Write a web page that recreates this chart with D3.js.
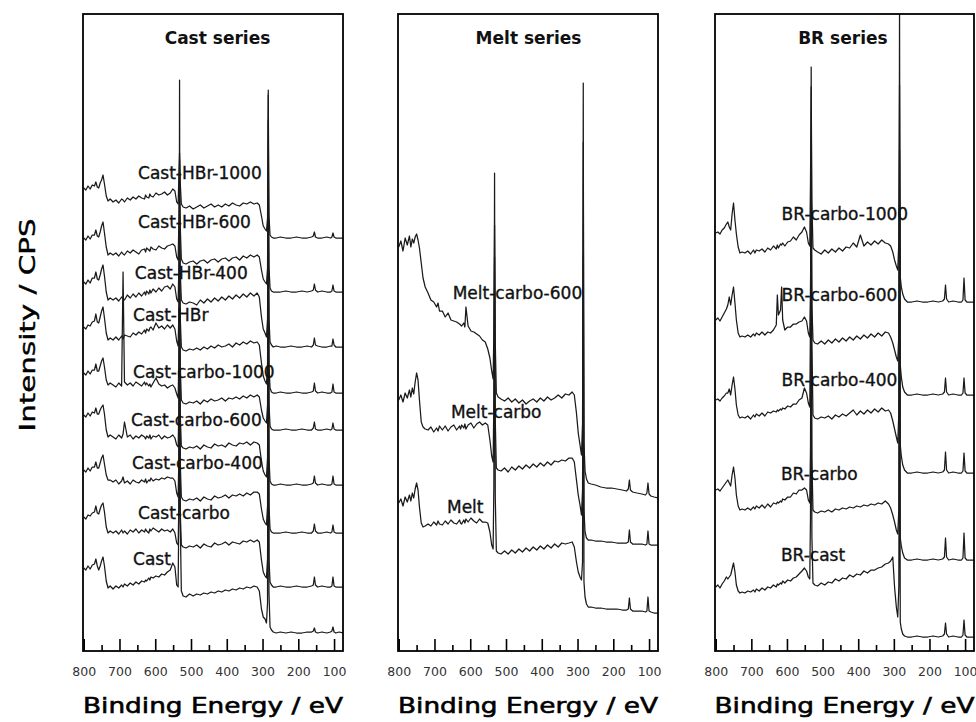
<!DOCTYPE html>
<html>
<head>
<meta charset="utf-8">
<script src="https://cdn.jsdelivr.net/npm/d3@7"></script>
<style>
  body { margin: 0; background: #fff; }
  svg { display: block; }
</style>
</head>
<body>
<svg id="chart" width="976" height="722"></svg>
<script>
// Binding-energy grid (eV) shared by every survey spectrum
const bindingEnergy = [
  800, 794, 788, 782, 776, 770, 766, 762, 758, 754, 750, 746, 742, 737, 732, 726,
  718, 710, 702, 694, 690, 686, 678, 670, 662, 654, 646, 638, 630, 627, 624, 618, 615, 612, 606, 598, 590, 582, 574, 566, 558,
  551, 545, 540, 536, 534, 532, 530, 527, 522,
  514, 504, 494, 484, 474, 464, 454, 444, 434, 424, 414, 404, 394, 384, 374, 364, 354, 344, 334, 324, 315,
  309, 303, 298, 293, 289, 286, 284, 282, 279, 275, 270,
  262, 250, 235, 220, 205, 190, 175, 163, 158, 155, 152, 146, 134, 120, 110, 106, 103, 100, 95, 86, 75
];

// Axis ticks (eV)
const majorTicks = [800, 700, 600, 500, 400, 300, 200, 100];
const minorTicks = [750, 650, 550, 450, 350, 250, 150];

// ---- Cast series: counts above each trace's own background ----
const castNames = ["Cast-HBr-1000", "Cast-HBr-600", "Cast-HBr-400", "Cast-HBr",
  "Cast-carbo-1000", "Cast-carbo-600", "Cast-carbo-400", "Cast-carbo", "Cast"];
const castOffsets = [413, 359, 304, 258, 221, 166, 118, 64, 18];
const castLabelAt = [[648, 478], [648, 429], [657, 378], [662, 336], [662, 279], [668, 231], [665, 188], [648, 138], [662, 92]];

const castHBr1000 = [
  50, 48, 52, 49, 53, 52, 56, 51, 50, 55, 58, 63, 54, 42, 37, 39,
  36, 38, 35, 39, 38, 36, 40, 38, 41, 39, 42, 40, 39, 43, 41, 40, 44, 42, 41, 45, 43, 44, 46, 43, 45,
  49, 47, 36, 34, 60, 85, 55, 34, 31,
  30, 32, 29, 31, 33, 30, 32, 34, 31, 33, 31, 34, 32, 35, 33, 32, 35, 34, 36, 34, 35,
  33, 22, 12, 9, 7, 20, 143, 22, 3, 1, 0,
  0, 1, 0, 0, 1, 0, 0, 1, 2, 6, 1, 0, 0, 1, 0, 1, 5, 1, 0, 0, 0
];
const castHBr600 = [
  54, 52, 56, 53, 57, 57, 62, 56, 55, 60, 66, 70, 59, 45, 37, 39,
  37, 39, 36, 40, 38, 37, 41, 39, 42, 40, 38, 42, 43, 40, 44, 42, 41, 45, 43, 42, 46, 44, 43, 46, 47,
  48, 46, 35, 32, 70, 132, 65, 33, 29,
  28, 30, 31, 28, 31, 32, 29, 32, 33, 30, 33, 34, 31, 34, 35, 32, 36, 34, 37, 35, 37,
  35, 22, 13, 10, 8, 24, 172, 25, 4, 1, 0,
  0, 0, 1, 0, 0, 1, 0, 1, 2, 8, 2, 0, 1, 0, 0, 1, 7, 1, 0, 0, 0
];
const castHBr400 = [
  65, 63, 67, 64, 69, 69, 75, 68, 67, 72, 78, 82, 71, 55, 47, 49,
  47, 49, 46, 50, 48, 47, 52, 49, 53, 50, 54, 51, 55, 52, 56, 53, 57, 54, 58, 55, 59, 56, 60, 61, 58,
  63, 60, 48, 45, 80, 137, 75, 47, 44,
  43, 45, 44, 42, 47, 44, 48, 45, 49, 46, 50, 47, 51, 48, 52, 49, 53, 50, 54, 51, 54,
  50, 30, 18, 14, 10, 28, 167, 28, 5, 2, 0,
  1, 0, 0, 1, 0, 0, 1, 0, 2, 9, 2, 1, 0, 0, 1, 1, 8, 2, 0, 0, 0
];
const castHBr = [
  66, 64, 68, 67, 71, 72, 79, 71, 70, 76, 82, 86, 75, 60, 53, 55,
  53, 56, 53, 57, 54, 58, 57, 56, 60, 58, 61, 59, 63, 60, 64, 62, 65, 66, 63, 70, 65, 67, 64, 68, 65,
  68, 64, 52, 47, 80, 143, 75, 46, 43,
  42, 44, 43, 45, 43, 46, 44, 47, 45, 48, 46, 47, 49, 46, 50, 48, 51, 49, 52, 50, 51,
  48, 30, 17, 12, 9, 27, 173, 28, 5, 1, 0,
  0, 1, 0, 0, 1, 0, 0, 1, 2, 10, 2, 0, 1, 0, 0, 1, 9, 1, 0, 0, 0
];
const castCarbo1000 = [
  57, 55, 59, 56, 60, 60, 66, 59, 59, 64, 69, 72, 63, 50, 45, 47,
  45, 43, 47, 44, 158, 48, 45, 47, 44, 48, 46, 44, 48, 45, 47, 44, 46, 43, 47, 52, 46, 44, 45, 42, 44,
  45, 42, 36, 32, 70, 130, 65, 30, 27,
  26, 28, 27, 29, 26, 30, 28, 31, 29, 30, 32, 29, 32, 31, 33, 31, 34, 32, 35, 33, 35,
  33, 20, 12, 9, 7, 25, 170, 26, 4, 1, 0,
  0, 0, 1, 0, 0, 1, 0, 0, 2, 8, 1, 0, 0, 1, 0, 1, 7, 1, 0, 0, 0
];
const castCarbo600 = [
  70, 68, 72, 69, 73, 72, 77, 71, 71, 75, 78, 80, 71, 55, 48, 50,
  48, 46, 50, 47, 51, 63, 48, 50, 46, 49, 47, 50, 48, 46, 49, 47, 50, 46, 49, 48, 50, 46, 49, 47, 48,
  50, 47, 40, 38, 75, 155, 70, 39, 37,
  36, 38, 37, 39, 36, 40, 38, 37, 41, 39, 40, 38, 42, 40, 39, 42, 41, 43, 40, 43, 42,
  40, 24, 14, 10, 8, 27, 185, 27, 4, 1, 0,
  0, 1, 0, 0, 1, 0, 0, 1, 2, 9, 2, 0, 1, 0, 0, 1, 9, 1, 0, 0, 0
];
const castCarbo400 = [
  63, 61, 65, 62, 66, 66, 71, 65, 65, 70, 75, 78, 69, 58, 53, 53,
  51, 53, 49, 52, 56, 50, 52, 49, 53, 51, 50, 53, 51, 54, 50, 53, 52, 55, 52, 54, 53, 55, 54, 56, 55,
  55, 52, 40, 36, 75, 153, 70, 36, 33,
  32, 34, 33, 35, 32, 36, 34, 33, 37, 35, 36, 38, 35, 38, 37, 39, 37, 40, 38, 41, 41,
  39, 24, 14, 10, 8, 27, 193, 27, 4, 1, 0,
  0, 0, 1, 0, 0, 1, 0, 0, 2, 9, 2, 0, 0, 1, 0, 1, 8, 1, 0, 0, 0
];
const castCarbo = [
  70, 68, 72, 71, 74, 75, 81, 74, 73, 78, 82, 84, 75, 60, 54, 56,
  54, 56, 53, 57, 54, 56, 53, 57, 55, 58, 54, 57, 55, 58, 56, 54, 58, 56, 59, 57, 55, 58, 56, 57, 55,
  58, 54, 44, 42, 80, 167, 75, 42, 40,
  39, 41, 40, 42, 39, 43, 41, 40, 44, 42, 43, 45, 42, 45, 44, 43, 46, 45, 47, 45, 47,
  45, 27, 15, 11, 9, 28, 187, 28, 5, 2, 0,
  0, 1, 0, 0, 1, 0, 0, 1, 2, 10, 2, 0, 1, 0, 0, 1, 10, 1, 0, 0, 0
];
const castPlain = [
  65, 63, 67, 64, 68, 69, 74, 67, 63, 67, 72, 76, 67, 52, 45, 47,
  44, 47, 45, 48, 46, 49, 47, 50, 48, 51, 49, 52, 51, 53, 52, 55, 53, 56, 55, 57, 56, 59, 58, 61, 63,
  70, 66, 48, 46, 120, 553, 110, 42, 37,
  36, 39, 37, 39, 38, 40, 39, 41, 40, 42, 41, 43, 42, 44, 43, 45, 44, 46, 45, 47, 46,
  42, 24, 16, 14, 10, 30, 543, 40, 6, 3, 1,
  0, 1, 0, 1, 0, 0, 1, 1, 2, 5, 1, 0, 1, 0, 1, 2, 6, 1, 0, 1, 0
];

// ---- Melt series ----
const meltNames = ["Melt-carbo-600", "Melt-carbo", "Melt"];
const meltOffsets = [168, 111, 44];
const meltLabelAt = [[649, 358], [654, 239], [665, 144]];

const meltCarbo600 = [
  236, 242, 232, 245, 238, 247, 236, 244, 240, 246, 249, 243, 235, 220, 205, 196,
  190, 183, 181, 176, 180, 172, 172, 166, 170, 163, 162, 161, 159, 158, 157, 160, 156, 176, 157, 152, 151, 149, 147, 143, 141,
  134, 125, 112, 104, 150, 258, 140, 90, 86,
  84, 82, 85, 81, 84, 80, 83, 79, 82, 84, 81, 85, 82, 86, 83, 85, 88, 85, 89, 88, 91,
  88, 70, 50, 38, 28, 60, 341, 40, 12, 4, 0,
  -1, -2, -4, -5, -5, -6, -7, -8, -6, 3, -7, -9, -10, -11, -12, -10, 0, -11, -13, -14, -15
];
const meltCarbo = [
  140, 145, 138, 147, 142, 150, 143, 152, 146, 158, 167, 160, 140, 118, 113, 111,
  110, 113, 108, 112, 109, 114, 110, 114, 109, 113, 115, 110, 114, 111, 115, 112, 116, 111, 115, 117, 112, 116, 118, 115, 117,
  115, 100, 84, 78, 140, 283, 120, 72, 70,
  69, 72, 68, 73, 70, 74, 71, 75, 72, 76, 73, 77, 74, 78, 75, 79, 78, 80, 79, 82, 82,
  78, 60, 45, 35, 25, 50, 285, 30, 8, 2, 0,
  0, -1, -1, -2, -2, -3, -3, -3, -2, 10, -2, -4, -4, -4, -5, -4, 9, -4, -5, -5, -5
];
const meltPlain = [
  104, 108, 101, 110, 105, 112, 106, 114, 109, 118, 124, 117, 100, 84, 80, 81,
  83, 81, 85, 82, 86, 83, 82, 86, 83, 87, 84, 83, 87, 84, 83, 87, 84, 88, 85, 89, 86, 84, 88, 85, 85,
  84, 75, 62, 58, 120, 434, 110, 56, 54,
  53, 56, 53, 57, 54, 58, 55, 59, 56, 60, 57, 61, 58, 62, 59, 63, 60, 64, 63, 64, 65,
  60, 45, 35, 30, 27, 45, 524, 25, 10, 3, 0,
  0, -1, -1, -2, -2, -2, -3, -3, -2, 9, -2, -4, -4, -4, -5, -4, 10, -4, -5, -6, -6
];

// ---- BR series ----
const brNames = ["BR-carbo-1000", "BR-carbo-600", "BR-carbo-400", "BR-carbo", "BR-cast"];
const brOffsets = [349, 256, 178, 91, 14];
const brLabelAt = [[615, 437], [615, 356], [615, 271], [617, 177], [617, 96]];

const brCarbo1000 = [
  69, 70, 68, 72, 74, 78, 80, 75, 72, 88, 99, 82, 68, 55, 49, 50,
  49, 51, 48, 52, 49, 52, 51, 53, 50, 54, 52, 56, 53, 57, 54, 58, 57, 59, 56, 60, 61, 65, 62, 67, 70,
  75, 70, 59, 56, 120, 215, 100, 54, 52,
  50, 48, 52, 49, 53, 50, 54, 51, 55, 54, 59, 55, 67, 56, 60, 57, 61, 58, 62, 59, 58,
  56, 50, 42, 36, 32, 60, 217, 25, 15, 8, 3,
  0, 0, 1, 0, 0, 1, 0, 1, 3, 17, 3, 0, 1, 0, 0, 2, 24, 2, 0, 0, 0
];
const brCarbo600 = [
  75, 77, 74, 78, 82, 86, 90, 98, 90, 100, 108, 92, 75, 62, 58, 59,
  58, 60, 58, 61, 59, 62, 60, 63, 60, 63, 62, 65, 70, 100, 80, 85, 108, 75, 65, 68, 68, 71, 71, 73, 74,
  78, 74, 62, 58, 100, 195, 90, 55, 52,
  51, 54, 51, 55, 52, 56, 53, 57, 54, 58, 55, 59, 56, 60, 57, 61, 58, 62, 59, 63, 62,
  58, 52, 45, 38, 34, 60, 245, 30, 18, 8, 3,
  0, 0, 1, 0, 0, 1, 0, 1, 3, 17, 3, 0, 1, 0, 0, 2, 17, 2, 0, 0, 0
];
const brCarbo400 = [
  73, 74, 72, 75, 77, 80, 80, 84, 78, 88, 96, 84, 68, 58, 55, 56,
  55, 57, 54, 58, 56, 59, 57, 60, 57, 61, 60, 62, 61, 63, 62, 64, 63, 65, 64, 67, 66, 69, 69, 73, 75,
  85, 80, 70, 66, 150, 406, 130, 58, 55,
  54, 56, 55, 57, 54, 58, 56, 59, 57, 60, 63, 58, 62, 59, 63, 60, 64, 61, 65, 62, 63,
  60, 52, 44, 36, 30, 60, 470, 28, 17, 8, 3,
  0, 0, 1, 0, 0, 1, 0, 1, 3, 21, 3, 0, 1, 0, 0, 2, 20, 2, 0, 0, 0
];
const brCarbo = [
  70, 71, 69, 72, 75, 78, 80, 77, 74, 85, 93, 82, 65, 54, 50, 51,
  50, 52, 50, 53, 51, 54, 52, 55, 52, 56, 53, 57, 56, 58, 57, 59, 58, 61, 60, 63, 63, 67, 66, 70, 70,
  72, 70, 60, 57, 110, 300, 100, 50, 48,
  47, 49, 48, 50, 48, 51, 50, 52, 51, 53, 52, 54, 53, 55, 54, 56, 55, 57, 56, 59, 56,
  52, 45, 38, 30, 26, 50, 360, 22, 14, 7, 2,
  0, 0, 1, 0, 0, 1, 0, 1, 3, 22, 3, 0, 1, 0, 0, 2, 27, 2, 0, 0, 0
];
const brCast = [
  50, 52, 49, 53, 56, 60, 58, 60, 62, 68, 74, 65, 52, 46, 44, 45,
  44, 46, 45, 47, 45, 48, 46, 49, 47, 50, 49, 52, 50, 53, 52, 54, 53, 56, 54, 57, 56, 59, 60, 63, 66,
  69, 66, 60, 58, 120, 337, 100, 54, 52,
  51, 54, 52, 55, 54, 58, 56, 59, 58, 62, 60, 63, 62, 66, 64, 67, 67, 69, 70, 73, 74,
  76, 80, 50, 30, 20, 50, 387, 15, 8, 3, 1,
  0, 0, 1, 0, 0, 1, 0, 1, 3, 14, 3, 0, 1, 0, 0, 2, 17, 2, 0, 0, 0
];

// ---- layout ----
const panels = [
  { title: "Cast series", titleAt: 426, left: 83, width: 260, names: castNames, offsets: castOffsets, labelAt: castLabelAt,
    spectra: [castHBr1000, castHBr600, castHBr400, castHBr, castCarbo1000, castCarbo600, castCarbo400, castCarbo, castPlain] },
  { title: "Melt series", titleAt: 437, left: 398, width: 260, names: meltNames, offsets: meltOffsets, labelAt: meltLabelAt,
    spectra: [meltCarbo600, meltCarbo, meltPlain] },
  { title: "BR series", titleAt: 443, left: 715, width: 259, names: brNames, offsets: brOffsets, labelAt: brLabelAt,
    spectra: [brCarbo1000, brCarbo600, brCarbo400, brCarbo, brCast] }
];

const plotTop = 14, plotBottom = 651;
const font = "'DejaVu Sans', 'Liberation Sans', sans-serif";

const svg = d3.select("#chart");
svg.append("rect").attr("width", 976).attr("height", 722).attr("fill", "#fff");

const y = d3.scaleLinear().domain([0, 637]).range([plotBottom, plotTop]);

panels.forEach((p, pi) => {
  const x = d3.scaleLinear().domain([802, 75]).range([p.left, p.left + p.width]);
  const g = svg.append("g");

  const clipId = "plot-clip-" + pi;
  svg.append("clipPath").attr("id", clipId)
    .append("rect").attr("x", p.left).attr("y", plotTop)
    .attr("width", p.width).attr("height", plotBottom - plotTop);

  const line = d3.line().x(d => x(d[0])).y(d => y(d[1]));
  const plot = g.append("g").attr("clip-path", `url(#${clipId})`);

  p.spectra.forEach((vals, si) => {
    const pts = bindingEnergy.map((e, i) => [e, p.offsets[si] + vals[i]]);
    plot.append("path")
      .attr("d", line(pts))
      .attr("fill", "none")
      .attr("stroke", "#1a1a1a")
      .attr("stroke-width", 1.25)
      .attr("stroke-linejoin", "round");
  });

  // sample names
  p.names.forEach((name, si) => {
    g.append("text")
      .attr("x", x(p.labelAt[si][0]))
      .attr("y", y(p.labelAt[si][1]))
      .attr("dy", "0.36em")
      .attr("font-family", font)
      .attr("font-size", 17)
      .attr("fill", "#111")
      .attr("stroke", "#111")
      .attr("stroke-width", 0.35)
      .text(name);
  });

  // panel title
  g.append("text")
    .attr("x", x(p.titleAt))
    .attr("y", 44)
    .attr("text-anchor", "middle")
    .attr("font-family", font)
    .attr("font-weight", "bold")
    .attr("font-size", 17)
    .attr("fill", "#111")
    .text(p.title);

  // energy axis: long ticks every 100 eV, short ticks in between, drawn inward
  const major = g.append("g").attr("transform", `translate(0,${plotBottom})`)
    .call(d3.axisBottom(x).tickValues(majorTicks).tickSizeInner(-12).tickSizeOuter(0)
      .tickPadding(16).tickFormat(d3.format("d")));
  const minor = g.append("g").attr("transform", `translate(0,${plotBottom})`)
    .call(d3.axisBottom(x).tickValues(minorTicks).tickSizeInner(-6).tickSizeOuter(0).tickFormat(""));
  [major, minor].forEach(a => {
    a.select(".domain").remove();
    a.selectAll(".tick line").attr("stroke", "#000").attr("stroke-width", 1.6);
  });
  major.selectAll(".tick text")
    .attr("font-family", font)
    .attr("font-size", 12.5)
    .attr("fill", "#333");

  // frame
  g.append("rect")
    .attr("x", p.left).attr("y", plotTop)
    .attr("width", p.width).attr("height", plotBottom - plotTop)
    .attr("fill", "none").attr("stroke", "#000").attr("stroke-width", 1.8);

  // axis title
  g.append("text")
    .attr("x", p.left + p.width / 2)
    .attr("y", 713)
    .attr("text-anchor", "middle")
    .attr("font-family", font)
    .attr("font-size", 22)
    .attr("textLength", 260)
    .attr("lengthAdjust", "spacingAndGlyphs")
    .attr("fill", "#000")
    .attr("stroke", "#000")
    .attr("stroke-width", 0.6)
    .text("Binding Energy / eV");
});

svg.append("text")
  .attr("transform", "translate(35,325) rotate(-90)")
  .attr("text-anchor", "middle")
  .attr("font-family", font)
  .attr("font-size", 22)
  .attr("textLength", 213)
  .attr("lengthAdjust", "spacingAndGlyphs")
  .attr("fill", "#000")
  .attr("stroke", "#000")
  .attr("stroke-width", 0.4)
  .text("Intensity / CPS");
</script>
</body>
</html>
